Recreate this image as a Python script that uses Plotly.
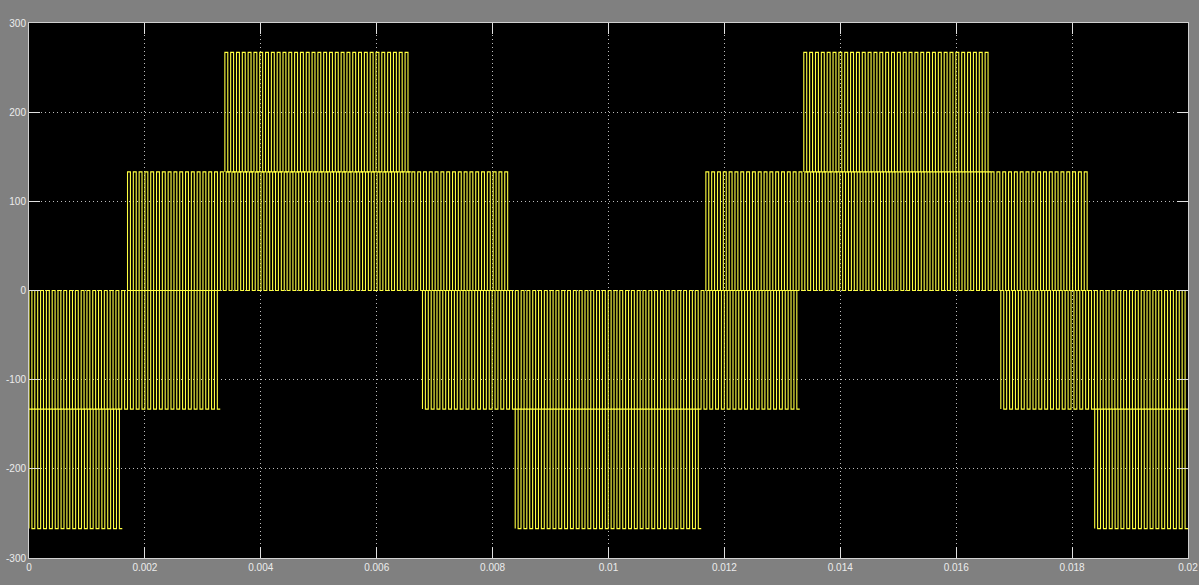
import plotly.graph_objects as go

# Band segments of the multilevel PWM trace
seg_start = [0.0, 0.0, 0.00170, 0.00338, 0.00679, 0.00839, 0.01168, 0.01337, 0.01677, 0.01839]
seg_end = [0.00161, 0.00330, 0.00831, 0.00659, 0.01330, 0.01160, 0.01831, 0.01660, 0.02000, 0.02000]
seg_low = [-267, -133, 0, 133, -133, -267, 0, 133, -133, -267]
seg_high = [-133, 0, 133, 267, 0, -133, 133, 267, 0, -133]
seg_pulses = [16, 33, 66, 32, 65, 32, 66, 32, 32, 16]
duty = 0.5

x_ticks = [0, 0.002, 0.004, 0.006, 0.008, 0.01, 0.012, 0.014, 0.016, 0.018, 0.02]
x_labels = ["0", "0.002", "0.004", "0.006", "0.008", "0.01", "0.012", "0.014", "0.016", "0.018", "0.02"]
y_ticks = [-300, -200, -100, 0, 100, 200, 300]
y_labels = ["-300", "-200", "-100", "0", "100", "200", "300"]

xs, ys = [], []
for t0, t1, lo, hi, n in zip(seg_start, seg_end, seg_low, seg_high, seg_pulses):
    p = (t1 - t0) / n
    for k in range(n):
        a = t0 + k * p
        b = a + duty * p
        xs += [a, a, b, b]
        ys += [lo, hi, hi, lo]
    xs += [t1, None]
    ys += [lo, None]

fig = go.Figure()
fig.add_trace(go.Scatter(x=xs, y=ys, mode="lines",
                         line=dict(color="#ffff40", width=1.1),
                         hoverinfo="skip", showlegend=False))

axis_common = dict(
    automargin=False,
    showline=True, linecolor="#d0d0d0", linewidth=1, mirror="ticks",
    ticks="inside", ticklen=11, tickcolor="#e0e0e0", tickwidth=1,
    showgrid=True, gridcolor="#bdbdbd", griddash="1px,3px", gridwidth=1,
    zeroline=False, tickfont=dict(family="Liberation Sans, Arial", size=10, color="#ececec"),
)

fig.update_layout(
    width=1199, height=585,
    paper_bgcolor="#808080", plot_bgcolor="#000000",
    margin=dict(l=29, r=11, t=23, b=27, autoexpand=False),
    hovermode=False,
    xaxis=dict(range=[0, 0.02], tickvals=x_ticks, ticktext=x_labels, **axis_common),
    yaxis=dict(range=[-300, 300], tickvals=y_ticks, ticktext=y_labels, **axis_common),
)

fig.write_html("out.html", config={"displayModeBar": False},
               post_script="document.body.style.margin='0';document.body.style.overflow='hidden';")
